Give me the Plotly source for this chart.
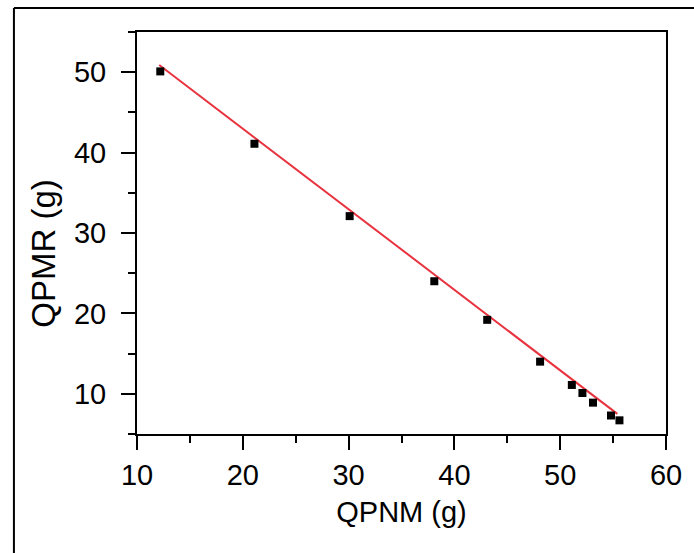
import plotly.graph_objects as go

# Data
qpnm = [12.2, 21.1, 30.1, 38.1, 43.1, 48.1, 51.1, 52.1, 53.1, 54.8, 55.6]
qpmr = [50.1, 41.1, 32.1, 24.0, 19.2, 14.0, 11.1, 10.1, 8.9, 7.3, 6.7]
fit_x = [12.1, 55.4]
fit_y = [50.9, 7.5]

x_ticks = [10, 20, 30, 40, 50, 60]
y_ticks = [10, 20, 30, 40, 50]

W, H = 694, 553
ML, MR, MT, MB = 137, 24, 32, 119
pw, ph = W - ML - MR, H - MT - MB

def px(x):
    return (x - ML) / pw

def py(y):
    return (H - MB - y) / ph

FONT = "Arial, Liberation Sans, sans-serif"

fig = go.Figure()
fig.add_trace(go.Scatter(
    x=fit_x, y=fit_y, mode="lines",
    line=dict(color="#E8333F", width=2), showlegend=False))
fig.add_trace(go.Scatter(
    x=qpnm, y=qpmr, mode="markers",
    marker=dict(symbol="square", size=8, color="black"), showlegend=False))

axis_common = dict(
    showgrid=False, zeroline=False, showline=True, linecolor="black",
    linewidth=2, mirror=True, ticks="outside", ticklen=14, tickwidth=2,
    tickcolor="black", tickfont=dict(family=FONT, size=29, color="black"),
)

fig.update_xaxes(
    range=[10, 60], tickvals=x_ticks, ticktext=[str(v) for v in x_ticks],
    minor=dict(ticks="outside", ticklen=7, tickwidth=2, tickcolor="black", dtick=5, tick0=0),
    title=dict(text="QPNM (g)", font=dict(family=FONT, size=29, color="black"), standoff=12),
    **axis_common)
fig.update_yaxes(
    range=[5, 55], tickvals=y_ticks, ticktext=[str(v) for v in y_ticks],
    minor=dict(ticks="outside", ticklen=7, tickwidth=2, tickcolor="black", dtick=5, tick0=0),
    ticklabelstandoff=9,
    **axis_common)

fig.add_annotation(
    text="QPMR (g)", textangle=-90, xref="paper", yref="paper",
    x=px(42), y=py(253), showarrow=False, xanchor="center", yanchor="middle",
    font=dict(family=FONT, size=33, color="black"))

# outer frame (top and left edges)
fig.add_shape(type="line", xref="paper", yref="paper",
              x0=px(13), y0=py(8), x1=px(700), y1=py(8),
              line=dict(color="black", width=2))
fig.add_shape(type="line", xref="paper", yref="paper",
              x0=px(13), y0=py(8), x1=px(13), y1=py(560),
              line=dict(color="black", width=2))

fig.update_layout(
    width=W, height=H, margin=dict(l=ML, r=MR, t=MT, b=MB),
    paper_bgcolor="white", plot_bgcolor="white",
)

fig.write_html(
    "out.html",
    config={"displayModeBar": False},
    post_script="document.body.style.margin='0';document.body.style.overflow='hidden';",
)
